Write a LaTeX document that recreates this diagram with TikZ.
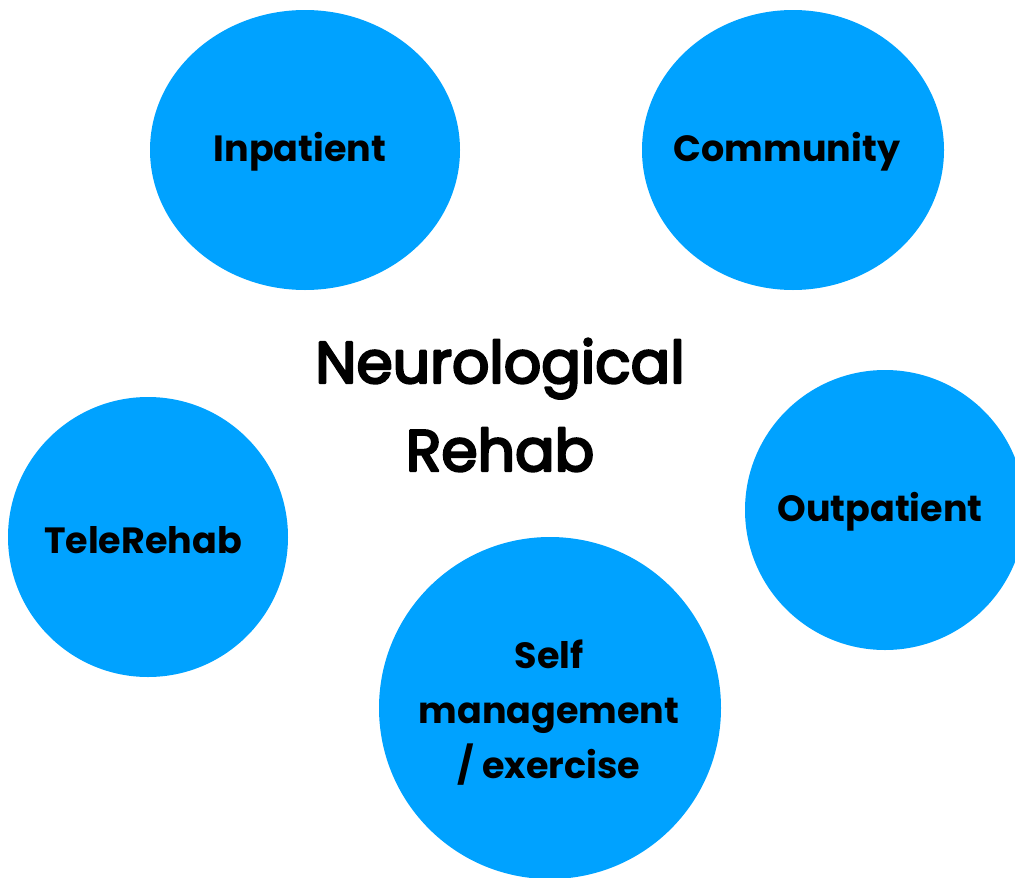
\documentclass[tikz,border=0pt]{standalone}
\usepackage{fontspec}
\setmainfont{Poppins}
% heading text: regular Poppins, thickened with an outline stroke
\newcommand{\thicktext}[1]{\special{pdf:literal direct 2 Tr 2.4 w 1 j 0 0 0 RG}#1\special{pdf:literal direct 0 Tr}}
\definecolor{bubble}{RGB}{0,162,255}
\begin{document}
\begin{tikzpicture}[x=1pt,y=-1pt,
  bubble/.style={fill=bubble, draw=none},
  lbl/.style={font=\fontsize{36.5}{55}\selectfont\bfseries, align=center, text=black, inner sep=0pt},
  title/.style={font=\fontsize{58.5}{88}\selectfont, align=center, text=black, inner sep=0pt}]
  \useasboundingbox (0,0) rectangle (1015,878);
  \begin{scope}
    \clip (0,0) rectangle (1015,878);
    \fill[bubble] (305,150) ellipse [x radius=155, y radius=140];
    \fill[bubble] (793,150) ellipse [x radius=151, y radius=140];
    \fill[bubble] (148,537) ellipse [x radius=140, y radius=140];
    \fill[bubble] (885,510) ellipse [x radius=140, y radius=140];
    \fill[bubble] (550,708) ellipse [x radius=171, y radius=171];
  \end{scope}
  \node[lbl] (inpatient) at (300,152) {Inpatient};
  \node[lbl] (community) at (787,152) {Community};
  \node[lbl] (telerehab) at (143,540) {TeleRehab};
  \node[lbl] (outpatient) at (880,512) {Outpatient};
  \node[lbl] (self) at (549,713) {Self\\management\\/ exercise};
  \node[title] (title) at (500,405) {\thicktext{Neurological}\\\thicktext{Rehab}};
\end{tikzpicture}
\end{document}
